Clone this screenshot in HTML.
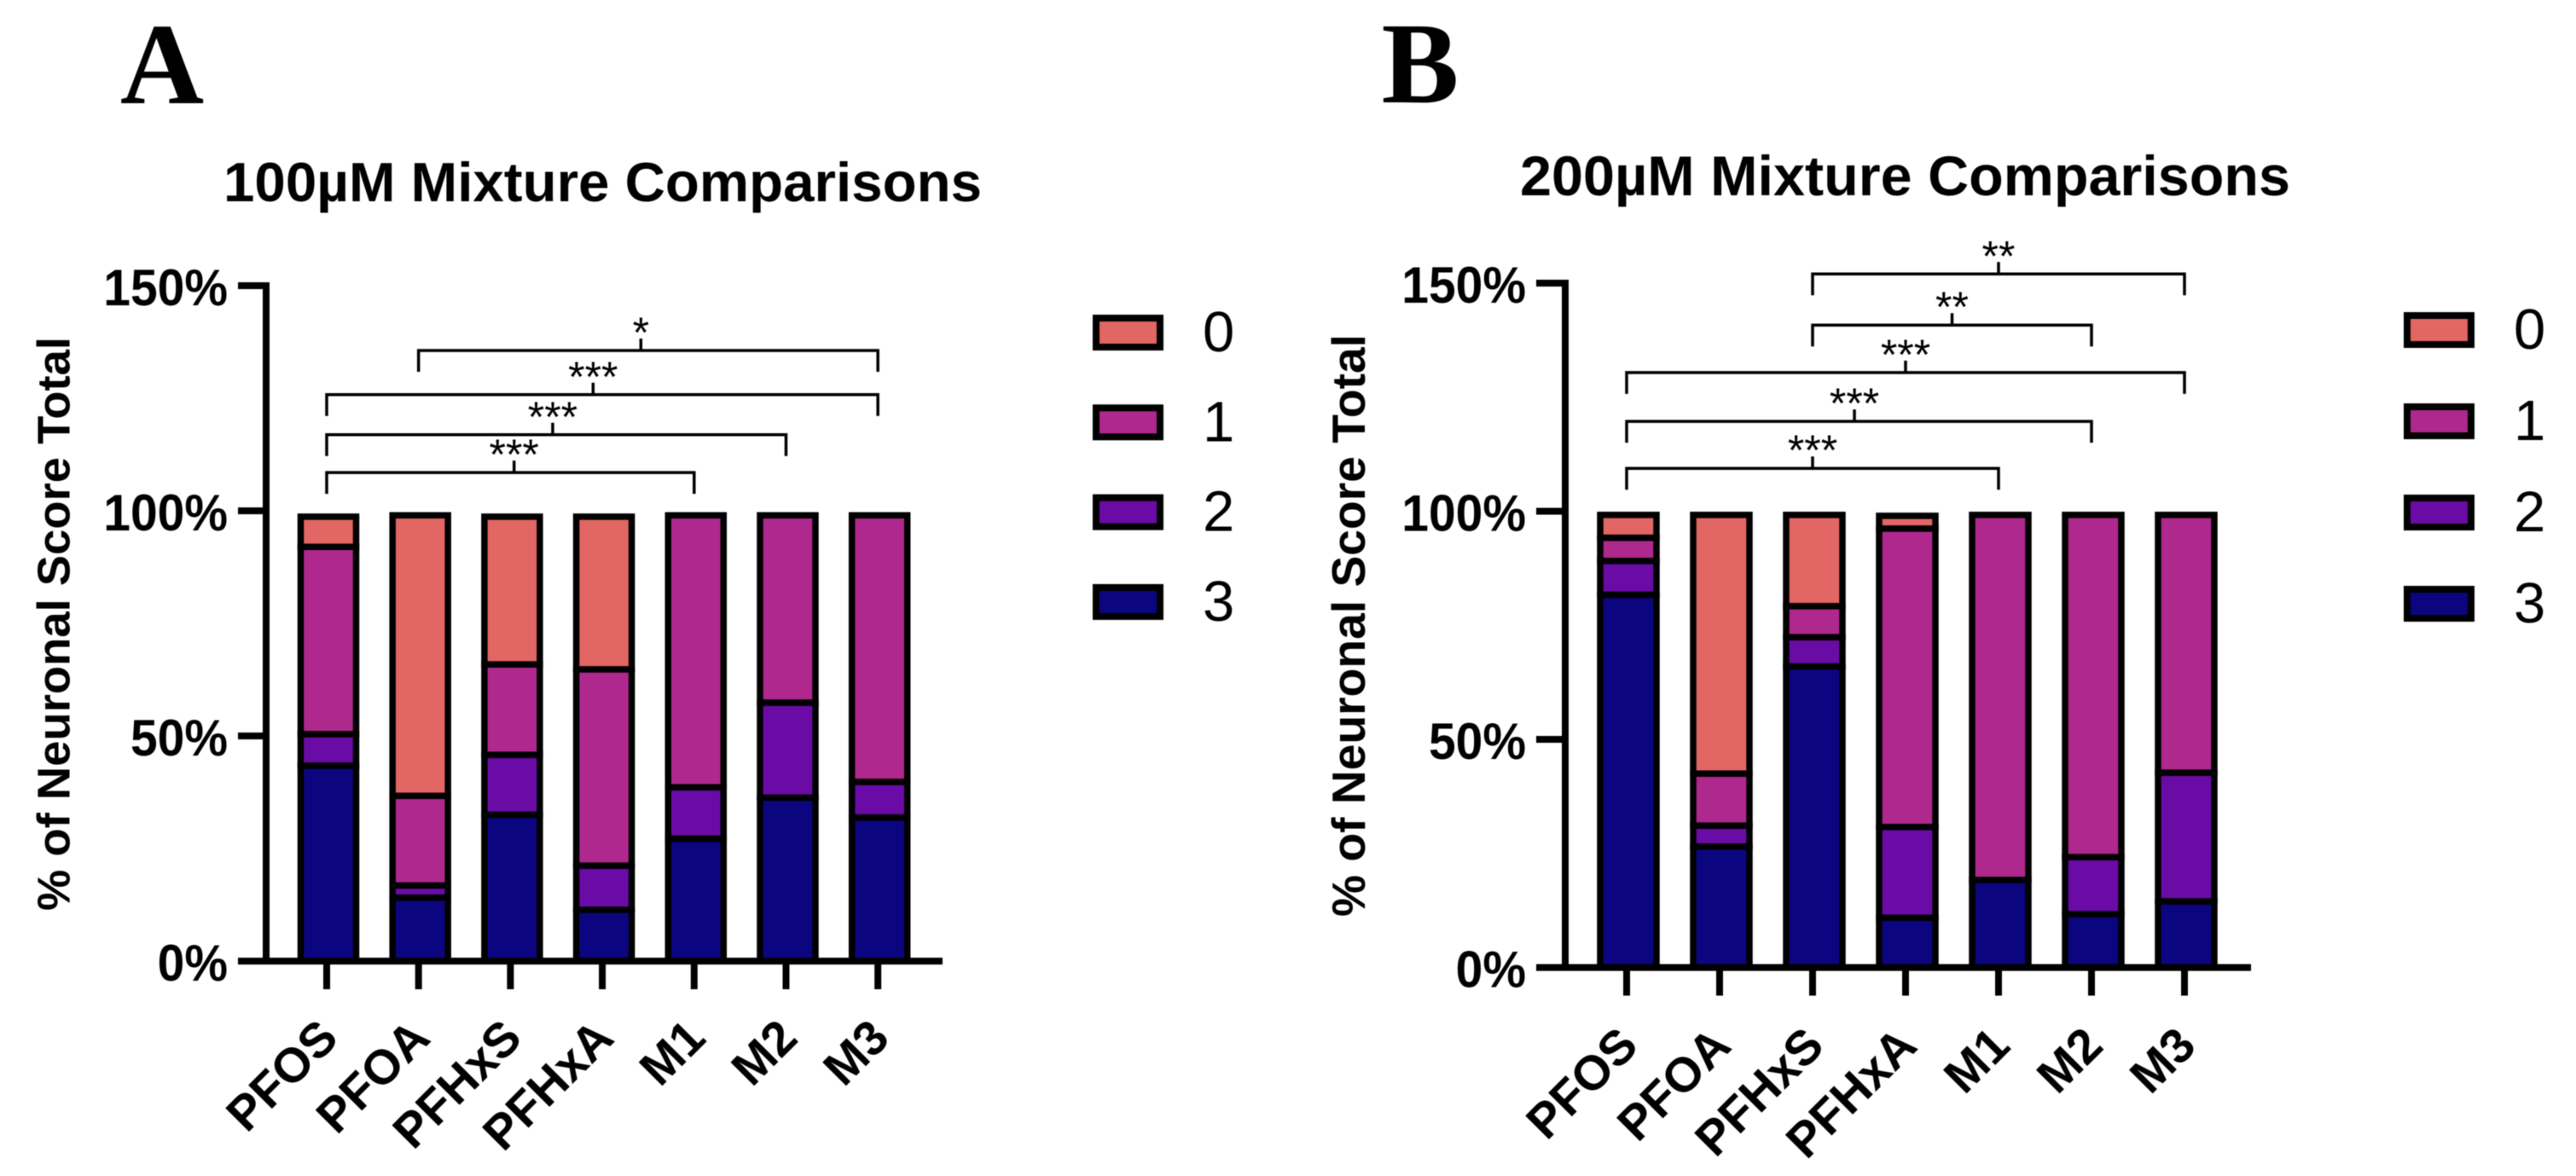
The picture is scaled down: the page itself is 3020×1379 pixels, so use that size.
<!DOCTYPE html>
<html lang="en">
<head>
<meta charset="utf-8">
<title>100µM and 200µM Mixture Comparisons</title>
<style>
  html, body { margin: 0; padding: 0; background: #ffffff; }
  body { width: 3020px; height: 1379px; overflow: hidden; }
  svg { display: block; filter: blur(0.5px); }
  text { font-family: "Liberation Sans", sans-serif; fill: #000000; }
</style>
</head>
<body>
<svg id="figure" xmlns="http://www.w3.org/2000/svg" width="3020" height="1379" viewBox="0 0 3020 1379">
  <rect x="0" y="0" width="3020" height="1379" fill="#ffffff"/>
  <text x="190" y="121" text-anchor="middle" font-size="136" font-weight="700" style="font-family:'Liberation Serif',serif">A</text>
  <text x="1665" y="120" text-anchor="middle" font-size="136" font-weight="700" style="font-family:'Liberation Serif',serif">B</text>
  <text x="262" y="236" font-size="65" font-weight="700" textLength="889" lengthAdjust="spacingAndGlyphs">100µM Mixture Comparisons</text>
  <text x="1782" y="229" font-size="66" font-weight="700" textLength="903" lengthAdjust="spacingAndGlyphs">200µM Mixture Comparisons</text>
  <text transform="translate(81.5 731.5) rotate(-90)" text-anchor="middle" font-size="54" font-weight="700" textLength="673" lengthAdjust="spacingAndGlyphs">% of Neuronal Score Total</text>
  <text transform="translate(1600 733.5) rotate(-90)" text-anchor="middle" font-size="55" font-weight="700" textLength="683" lengthAdjust="spacingAndGlyphs">% of Neuronal Score Total</text>
  <g id="panel-a"></g>
  <g id="panel-b"></g>
</svg>
<script>
// Shared categories and axis
const categories = ['PFOS', 'PFOA', 'PFHxS', 'PFHxA', 'M1', 'M2', 'M3'];
const yTickValues = [0, 50, 100, 150];
const yTickLabels = ['0%', '50%', '100%', '150%'];
const legendLabels = ['0', '1', '2', '3'];
const seriesColors = ['#E26663', '#AF288D', '#6A0BA6', '#0C0580'];

// Panel A, 100µM: percentages per category for each neuronal score
const a_score3 = [43.4, 14.1, 32.5, 11.4, 27.2, 36.3, 31.9];
const a_score2 = [7.0, 2.7, 13.3, 9.8, 11.4, 21.1, 7.9];
const a_score1 = [41.6, 19.9, 20.1, 43.6, 60.4, 41.6, 59.2];
const a_score0 = [6.7, 62.3, 32.8, 33.9, 0, 0, 0];

// Panel A significance comparisons
const a_bracketFrom = [1, 0, 0, 0];
const a_bracketTo = [6, 6, 5, 4];
const a_bracketStem = [3.42, 2.9, 2.46, 2.04];
const a_bracketLevel = [135.6, 125.8, 116.9, 108.5];
const a_bracketStars = ['*', '***', '***', '***'];

// Panel B, 200µM: percentages per category for each neuronal score
const b_score3 = [81.7, 26.5, 66.0, 10.9, 19.2, 11.7, 14.5];
const b_score2 = [7.4, 4.6, 6.4, 19.9, 0, 12.5, 28.2];
const b_score1 = [5.1, 11.4, 6.8, 65.4, 80.0, 75.0, 56.5];
const b_score0 = [5.0, 56.7, 20.0, 2.8, 0, 0, 0];

// Panel B significance comparisons
const b_bracketFrom = [2, 2, 0, 0, 0];
const b_bracketTo = [6, 5, 6, 5, 4];
const b_bracketStem = [4.0, 3.5, 3.0, 2.45, 2.0];
const b_bracketLevel = [152, 140.8, 130.4, 119.7, 109.4];
const b_bracketStars = ['**', '**', '***', '***', '***'];

const SVGNS = 'http://www.w3.org/2000/svg';

function make(parent, tag, attrs, text) {
  const node = document.createElementNS(SVGNS, tag);
  Object.keys(attrs).forEach(function (k) { node.setAttribute(k, attrs[k]); });
  if (text !== undefined) node.textContent = text;
  parent.appendChild(node);
  return node;
}

function drawPanel(root, layout, stacks, cmp) {
  const yScale = function (v) { return layout.y0 - layout.pxPerUnit * v; };
  const tickX = function (i) { return layout.tickX0 + layout.pitch * i; };
  const barX = function (i) { return layout.barX0 + layout.pitch * i; };

  // bars: bottom-up stack, score 3 first
  categories.forEach(function (cat, i) {
    let cum = 0;
    stacks.forEach(function (stack) {
      const v = stack.values[i];
      if (v <= 0) return;
      const yTop = yScale(cum + v);
      const yBottom = yScale(cum);
      const r = make(root, 'rect', {
        x: barX(i) - layout.barW / 2, y: yTop, width: layout.barW, height: yBottom - yTop,
        fill: seriesColors[stack.colorIndex], stroke: '#000', 'stroke-width': 7.5
      });
      
      
      cum += v;
    });
  });

  // y axis
  const yLine = make(root, 'line', {
    x1: layout.axisX, x2: layout.axisX, y1: yScale(150) - 4, y2: layout.y0 + 4,
    stroke: '#000', 'stroke-width': 8
  });
  
  

  yTickValues.forEach(function (v, i) {
    const t = make(root, 'line', {
      x1: layout.axisLeft, x2: layout.axisX, y1: yScale(v), y2: yScale(v),
      stroke: '#000', 'stroke-width': 8
    });
    
    
    const lab = make(root, 'text', {
      x: 0, y: 0, 'text-anchor': 'end', 'font-size': 60, 'font-weight': 700,
      transform: 'translate(' + (layout.axisLeft - 12) + ' ' + (yScale(v) + 23) + ') scale(0.95 1)'
    }, yTickLabels[i]);
    
    
  });

  // x axis
  const xLine = make(root, 'line', {
    x1: layout.axisLeft, x2: layout.axisRight, y1: layout.y0, y2: layout.y0,
    stroke: '#000', 'stroke-width': 8
  });
  
  

  categories.forEach(function (cat, i) {
    const t = make(root, 'line', {
      x1: tickX(i), x2: tickX(i), y1: layout.y0, y2: layout.y0 + 33,
      stroke: '#000', 'stroke-width': 8
    });
    
    
    const ex = tickX(i) + 16;
    const ey = layout.labelY;
    const lab = make(root, 'text', {
      x: ex, y: ey, 'text-anchor': 'end', 'font-size': 57, 'font-weight': 700,
      transform: 'rotate(-45 ' + ex + ' ' + ey + ')'
    }, cat);
    
    
  });

  // significance brackets
  cmp.from.forEach(function (f, i) {
    const yb = yScale(cmp.level[i]);
    const x1 = tickX(f);
    const x2 = tickX(cmp.to[i]);
    const xs = tickX(cmp.stem[i]);
    const b = make(root, 'path', {
      d: 'M' + x1 + ' ' + (yb + 25) + 'V' + yb + 'H' + x2 + 'V' + (yb + 25) + 'M' + xs + ' ' + yb + 'V' + (yb - 14),
      fill: 'none', stroke: '#000', 'stroke-width': 3.5
    });
    
    
    const s = make(root, 'text', {
      x: xs, y: yb - 4, 'text-anchor': 'middle', 'font-size': 50
    }, cmp.stars[i]);
    
    
  });

  // legend
  legendLabels.forEach(function (label, i) {
    const ly = layout.legendY + layout.legendStep * i;
    const r = make(root, 'rect', {
      x: layout.legendX + 4, y: ly + 4, width: 75, height: 34,
      fill: seriesColors[i], stroke: '#000', 'stroke-width': 8
    });
    
    
    const t = make(root, 'text', {
      x: layout.legendX + 129, y: ly + 43, 'font-size': 67
    }, label);
    
    
  });
}

drawPanel(document.getElementById('panel-a'),
  { y0: 1127, pxPerUnit: 5.28, tickX0: 383, barX0: 385, pitch: 107.7, barW: 65, axisX: 312, axisLeft: 279, axisRight: 1105, labelY: 1220, legendX: 1281, legendY: 369, legendStep: 105.3 },
  [
    { score: 3, colorIndex: 3, values: a_score3 },
    { score: 2, colorIndex: 2, values: a_score2 },
    { score: 1, colorIndex: 1, values: a_score1 },
    { score: 0, colorIndex: 0, values: a_score0 }
  ],
  { from: a_bracketFrom, to: a_bracketTo, stem: a_bracketStem, level: a_bracketLevel, stars: a_bracketStars }
);

drawPanel(document.getElementById('panel-b'),
  { y0: 1134.5, pxPerUnit: 5.35, tickX0: 1907, barX0: 1909, pitch: 109, barW: 66, axisX: 1835, axisLeft: 1801, axisRight: 2639, labelY: 1229, legendX: 2818, legendY: 366, legendStep: 107 },
  [
    { score: 3, colorIndex: 3, values: b_score3 },
    { score: 2, colorIndex: 2, values: b_score2 },
    { score: 1, colorIndex: 1, values: b_score1 },
    { score: 0, colorIndex: 0, values: b_score0 }
  ],
  { from: b_bracketFrom, to: b_bracketTo, stem: b_bracketStem, level: b_bracketLevel, stars: b_bracketStars }
);
</script>
</body>
</html>
